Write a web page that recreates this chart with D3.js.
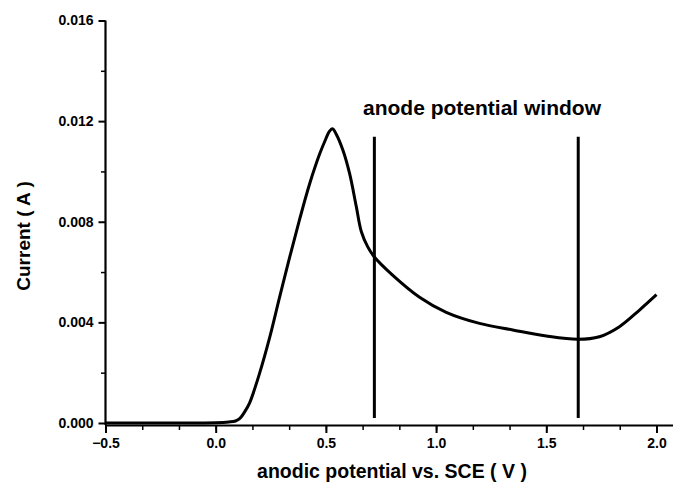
<!DOCTYPE html>
<html><head><meta charset="utf-8">
<script src="https://cdn.jsdelivr.net/npm/d3@7/dist/d3.min.js"></script>
<style>body{margin:0;background:#fff}svg{display:block}text{font-family:"Liberation Sans",Arial,sans-serif;font-weight:bold;fill:#000}</style>
</head><body><svg id="c" width="673" height="484"></svg>
<script>
const potential = [-0.5, -0.2, 0.0, 0.06, 0.09, 0.11, 0.132, 0.154, 0.2, 0.245, 0.29, 0.336, 0.381, 0.426, 0.472, 0.50, 0.515, 0.530, 0.547, 0.577, 0.608, 0.638, 0.661, 0.69, 0.72, 0.80, 0.925, 1.046, 1.197, 1.348, 1.50, 1.643, 1.741, 1.832, 1.923, 2.0];
const current = [0, 0, 0.00001, 0.00004, 0.00008, 0.00018, 0.00045, 0.0008, 0.002, 0.0034, 0.005, 0.0066, 0.0081, 0.0095, 0.0107, 0.0113, 0.01158, 0.0117, 0.01148, 0.01085, 0.0099, 0.0086, 0.0076, 0.0070, 0.0066, 0.0059, 0.0050, 0.0044, 0.00396, 0.0037, 0.00346, 0.00333, 0.00343, 0.00383, 0.00449, 0.0051];
const windowEdges = [0.72, 1.645];
const windowSpan = [0.0002, 0.01138];
const xTicks = [-0.5, 0.0, 0.5, 1.0, 1.5, 2.0];
const xMinorTicks = [-0.5, -1/3, -1/6, 0, 1/6, 1/3, 0.5, 2/3, 5/6, 1.0, 7/6, 4/3, 1.5, 5/3, 11/6, 2.0];
const yTicks = [0.000, 0.004, 0.008, 0.012, 0.016];
const yMinorTicks = [0.002, 0.006, 0.010, 0.014];
const annotation = "anode potential window";
const xTitle = "anodic potential vs. SCE ( V )";
const yTitle = "Current ( A )";

const svg = d3.select("#c");
const x = d3.scaleLinear().domain([-0.5, 2.075]).range([105.5, 673]);
const y = d3.scaleLinear().domain([-0.00008, 0.016]).range([425, 20.5]);

const gx2 = svg.append("g").attr("transform","translate(0,425)")
  .call(d3.axisBottom(x).tickValues(xMinorTicks).tickSize(5).tickFormat(""));
gx2.select(".domain").remove();
gx2.selectAll("line").attr("stroke-width",1.5);
const gy2 = svg.append("g").attr("transform","translate(105.5,0)")
  .call(d3.axisLeft(y).tickValues(yMinorTicks).tickSize(4.5).tickFormat(""));
gy2.select(".domain").remove();
gy2.selectAll("line").attr("stroke-width",1.5);

const gx = svg.append("g").attr("transform","translate(0,425)")
  .call(d3.axisBottom(x).tickValues(xTicks).tickSize(8).tickSizeOuter(0).tickPadding(5).tickFormat(d3.format(".1f")));
gx.select(".domain").attr("stroke-width",2.2);
gx.selectAll(".tick line").attr("stroke-width",2);
gx.selectAll("text").attr("font-size",14).attr("font-family","Liberation Sans, Arial, sans-serif").attr("font-weight","bold");

const gy = svg.append("g").attr("transform","translate(105.5,0)")
  .call(d3.axisLeft(y).tickValues(yTicks).tickSize(7).tickSizeOuter(0).tickPadding(5).tickFormat(d3.format(".3f")));
gy.select(".domain").attr("stroke-width",2.2).attr("d","M0,20.5V425");
gy.selectAll(".tick line").attr("stroke-width",2);
gy.selectAll("text").attr("font-size",14).attr("font-family","Liberation Sans, Arial, sans-serif").attr("font-weight","bold");

const pts = potential.map((v,i)=>[v,current[i]]);
svg.append("path").datum(pts)
  .attr("fill","none").attr("stroke","#000").attr("stroke-width",3)
  .attr("stroke-linejoin","round")
  .attr("d", d3.line().x(d=>x(d[0])).y(d=>y(d[1])).curve(d3.curveCatmullRom.alpha(0.5)));

svg.selectAll(".edge").data(windowEdges).join("line")
  .attr("x1",d=>x(d)).attr("x2",d=>x(d))
  .attr("y1",y(windowSpan[0])).attr("y2",y(windowSpan[1]))
  .attr("stroke","#000").attr("stroke-width",3);

svg.append("text").attr("x",363).attr("y",115).attr("font-size",21).text(annotation);
svg.append("text").attr("x",392).attr("y",478).attr("text-anchor","middle").attr("font-size",19.5).text(xTitle);
svg.append("text").attr("transform","translate(30,236) rotate(-90)").attr("text-anchor","middle").attr("font-size",19).text(yTitle);
</script></body></html>
